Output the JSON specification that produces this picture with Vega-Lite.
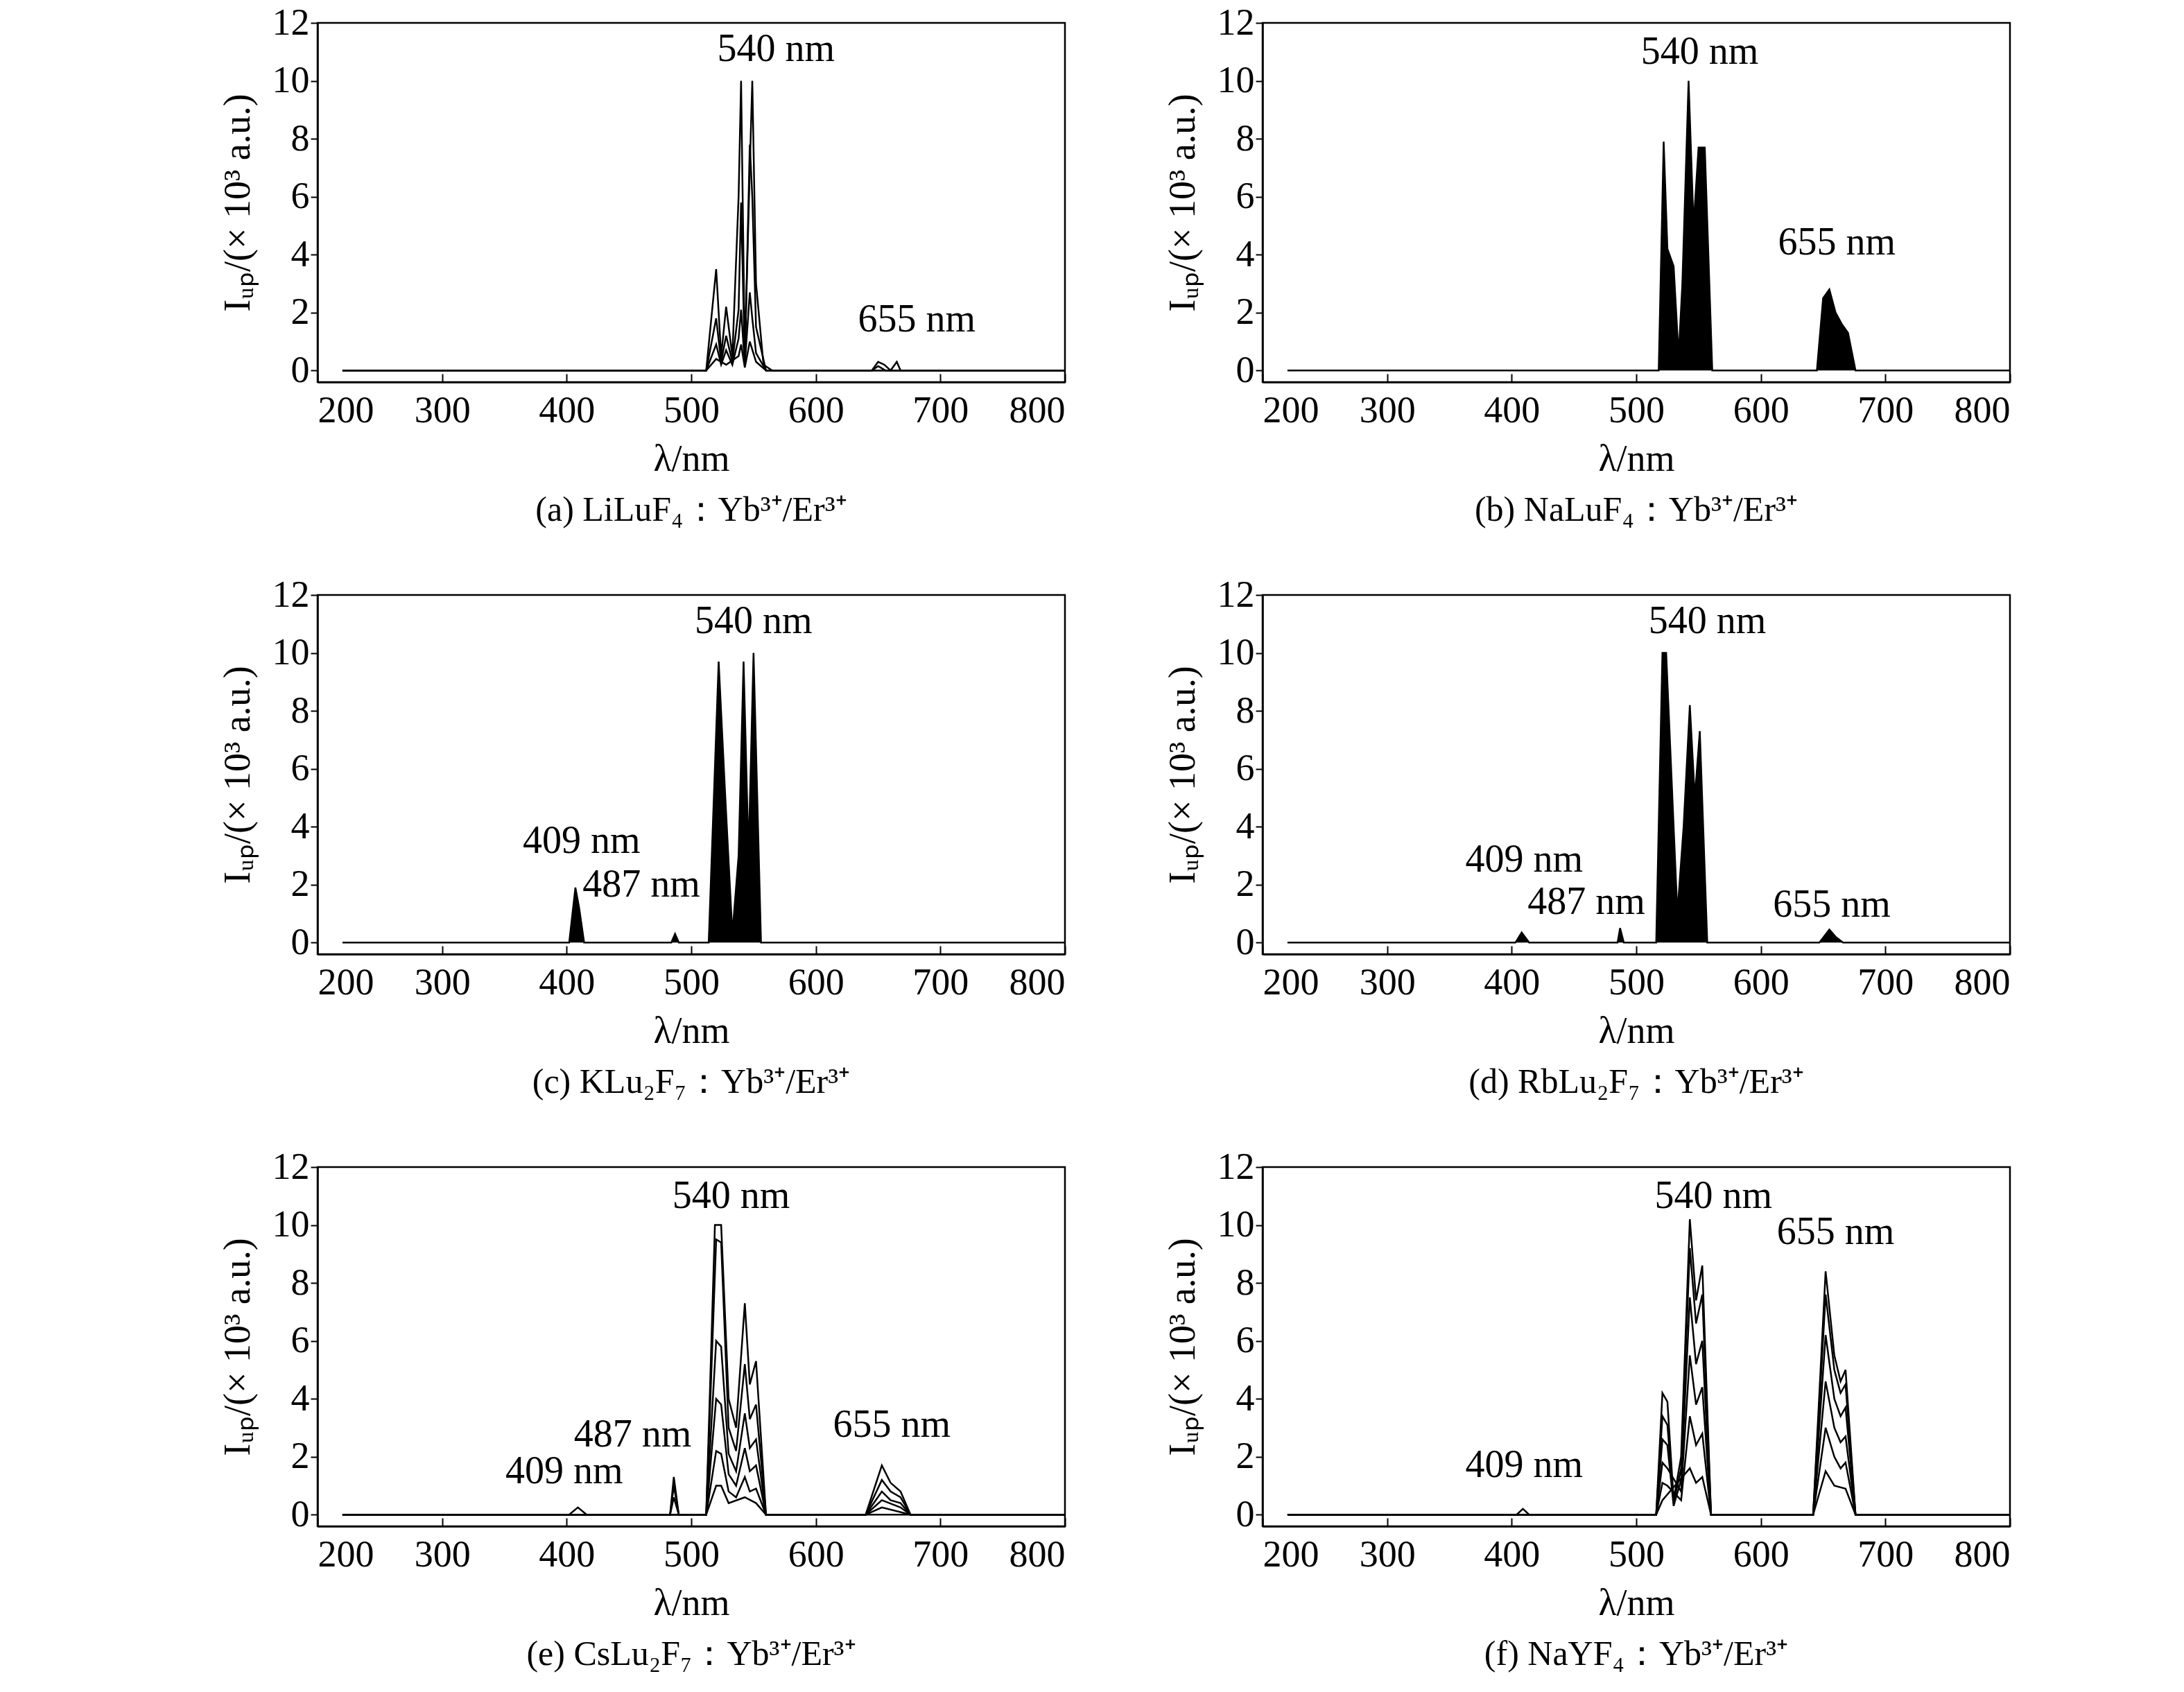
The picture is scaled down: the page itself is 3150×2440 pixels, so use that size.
{
  "$schema": "https://vega.github.io/schema/vega-lite/v6.json",
  "background": "white",
  "padding": {"left": 314, "top": 4, "right": 20, "bottom": 10},
  "data": {
    "values": [
      {"p":"a","s":1,"x":220,"y":0},{"p":"a","s":1,"x":512,"y":0},{"p":"a","s":1,"x":520,"y":3.5},{"p":"a","s":1,"x":524,"y":0.5},{"p":"a","s":1,"x":528,"y":2.2},{"p":"a","s":1,"x":533,"y":0.5},{"p":"a","s":1,"x":538,"y":6},{"p":"a","s":1,"x":540,"y":10},{"p":"a","s":1,"x":543,"y":0.5},{"p":"a","s":1,"x":547,"y":7},{"p":"a","s":1,"x":549,"y":10},{"p":"a","s":1,"x":552,"y":3},{"p":"a","s":1,"x":558,"y":0.2},{"p":"a","s":1,"x":565,"y":0},{"p":"a","s":1,"x":645,"y":0},{"p":"a","s":1,"x":650,"y":0.3},{"p":"a","s":1,"x":655,"y":0.2},{"p":"a","s":1,"x":660,"y":0},{"p":"a","s":1,"x":665,"y":0.3},{"p":"a","s":1,"x":668,"y":0},{"p":"a","s":1,"x":800,"y":0},
      {"p":"a","s":2,"x":220,"y":0},{"p":"a","s":2,"x":512,"y":0},{"p":"a","s":2,"x":520,"y":1.8},{"p":"a","s":2,"x":524,"y":0.3},{"p":"a","s":2,"x":528,"y":1.2},{"p":"a","s":2,"x":533,"y":0.3},{"p":"a","s":2,"x":538,"y":2.1},{"p":"a","s":2,"x":540,"y":5.8},{"p":"a","s":2,"x":543,"y":0.3},{"p":"a","s":2,"x":547,"y":7.8},{"p":"a","s":2,"x":549,"y":6},{"p":"a","s":2,"x":552,"y":1.5},{"p":"a","s":2,"x":560,"y":0},{"p":"a","s":2,"x":645,"y":0},{"p":"a","s":2,"x":650,"y":0.15},{"p":"a","s":2,"x":656,"y":0},{"p":"a","s":2,"x":800,"y":0},
      {"p":"a","s":3,"x":220,"y":0},{"p":"a","s":3,"x":512,"y":0},{"p":"a","s":3,"x":520,"y":0.9},{"p":"a","s":3,"x":524,"y":0.2},{"p":"a","s":3,"x":528,"y":0.7},{"p":"a","s":3,"x":533,"y":0.2},{"p":"a","s":3,"x":538,"y":1.1},{"p":"a","s":3,"x":540,"y":2.1},{"p":"a","s":3,"x":543,"y":0.2},{"p":"a","s":3,"x":547,"y":2.7},{"p":"a","s":3,"x":549,"y":1.8},{"p":"a","s":3,"x":552,"y":0.6},{"p":"a","s":3,"x":560,"y":0},{"p":"a","s":3,"x":800,"y":0},
      {"p":"a","s":4,"x":220,"y":0},{"p":"a","s":4,"x":512,"y":0},{"p":"a","s":4,"x":520,"y":0.4},{"p":"a","s":4,"x":528,"y":0.2},{"p":"a","s":4,"x":538,"y":0.5},{"p":"a","s":4,"x":540,"y":0.9},{"p":"a","s":4,"x":543,"y":0.1},{"p":"a","s":4,"x":547,"y":1.0},{"p":"a","s":4,"x":552,"y":0.3},{"p":"a","s":4,"x":560,"y":0},{"p":"a","s":4,"x":800,"y":0},

      {"p":"b","s":1,"x":220,"y":0},{"p":"b","s":1,"x":518,"y":0},{"p":"b","s":1,"x":522,"y":7.9},{"p":"b","s":1,"x":525,"y":4.2},{"p":"b","s":1,"x":530,"y":3.6},{"p":"b","s":1,"x":534,"y":0.5},{"p":"b","s":1,"x":537,"y":3},{"p":"b","s":1,"x":542,"y":10},{"p":"b","s":1,"x":546,"y":5},{"p":"b","s":1,"x":550,"y":7.7},{"p":"b","s":1,"x":555,"y":7.7},{"p":"b","s":1,"x":561,"y":0},{"p":"b","s":1,"x":645,"y":0},{"p":"b","s":1,"x":650,"y":2.5},{"p":"b","s":1,"x":655,"y":2.8},{"p":"b","s":1,"x":660,"y":2.0},{"p":"b","s":1,"x":665,"y":1.6},{"p":"b","s":1,"x":670,"y":1.3},{"p":"b","s":1,"x":676,"y":0},{"p":"b","s":1,"x":800,"y":0},

      {"p":"c","s":1,"x":220,"y":0},{"p":"c","s":1,"x":402,"y":0},{"p":"c","s":1,"x":407,"y":1.9},{"p":"c","s":1,"x":410,"y":1.2},{"p":"c","s":1,"x":414,"y":0},{"p":"c","s":1,"x":484,"y":0},{"p":"c","s":1,"x":487,"y":0.3},{"p":"c","s":1,"x":490,"y":0},{"p":"c","s":1,"x":514,"y":0},{"p":"c","s":1,"x":522,"y":9.7},{"p":"c","s":1,"x":527,"y":5.3},{"p":"c","s":1,"x":533,"y":0.3},{"p":"c","s":1,"x":538,"y":3},{"p":"c","s":1,"x":542,"y":9.7},{"p":"c","s":1,"x":546,"y":3},{"p":"c","s":1,"x":550,"y":10},{"p":"c","s":1,"x":556,"y":0},{"p":"c","s":1,"x":800,"y":0},

      {"p":"d","s":1,"x":220,"y":0},{"p":"d","s":1,"x":403,"y":0},{"p":"d","s":1,"x":408,"y":0.35},{"p":"d","s":1,"x":414,"y":0},{"p":"d","s":1,"x":485,"y":0},{"p":"d","s":1,"x":487,"y":0.5},{"p":"d","s":1,"x":490,"y":0},{"p":"d","s":1,"x":516,"y":0},{"p":"d","s":1,"x":521,"y":10},{"p":"d","s":1,"x":524,"y":10},{"p":"d","s":1,"x":527,"y":7},{"p":"d","s":1,"x":533,"y":1},{"p":"d","s":1,"x":538,"y":4},{"p":"d","s":1,"x":543,"y":8.2},{"p":"d","s":1,"x":547,"y":5},{"p":"d","s":1,"x":551,"y":7.3},{"p":"d","s":1,"x":557,"y":0},{"p":"d","s":1,"x":647,"y":0},{"p":"d","s":1,"x":655,"y":0.45},{"p":"d","s":1,"x":660,"y":0.2},{"p":"d","s":1,"x":666,"y":0},{"p":"d","s":1,"x":800,"y":0},

      {"p":"e","s":1,"x":220,"y":0},{"p":"e","s":1,"x":402,"y":0},{"p":"e","s":1,"x":409,"y":0.25},{"p":"e","s":1,"x":416,"y":0},{"p":"e","s":1,"x":483,"y":0},{"p":"e","s":1,"x":486,"y":1.3},{"p":"e","s":1,"x":490,"y":0},{"p":"e","s":1,"x":512,"y":0},{"p":"e","s":1,"x":519,"y":10},{"p":"e","s":1,"x":524,"y":10},{"p":"e","s":1,"x":530,"y":4},{"p":"e","s":1,"x":536,"y":3},{"p":"e","s":1,"x":543,"y":7.3},{"p":"e","s":1,"x":547,"y":4.5},{"p":"e","s":1,"x":552,"y":5.3},{"p":"e","s":1,"x":560,"y":0},{"p":"e","s":1,"x":640,"y":0},{"p":"e","s":1,"x":653,"y":1.7},{"p":"e","s":1,"x":660,"y":1.1},{"p":"e","s":1,"x":668,"y":0.8},{"p":"e","s":1,"x":676,"y":0},{"p":"e","s":1,"x":800,"y":0},
      {"p":"e","s":2,"x":220,"y":0},{"p":"e","s":2,"x":483,"y":0},{"p":"e","s":2,"x":486,"y":1.0},{"p":"e","s":2,"x":490,"y":0},{"p":"e","s":2,"x":512,"y":0},{"p":"e","s":2,"x":520,"y":9.5},{"p":"e","s":2,"x":524,"y":9.4},{"p":"e","s":2,"x":530,"y":3},{"p":"e","s":2,"x":536,"y":2.2},{"p":"e","s":2,"x":543,"y":5.2},{"p":"e","s":2,"x":547,"y":3.3},{"p":"e","s":2,"x":552,"y":3.8},{"p":"e","s":2,"x":560,"y":0},{"p":"e","s":2,"x":640,"y":0},{"p":"e","s":2,"x":653,"y":1.2},{"p":"e","s":2,"x":660,"y":0.8},{"p":"e","s":2,"x":668,"y":0.6},{"p":"e","s":2,"x":676,"y":0},{"p":"e","s":2,"x":800,"y":0},
      {"p":"e","s":3,"x":220,"y":0},{"p":"e","s":3,"x":483,"y":0},{"p":"e","s":3,"x":486,"y":0.6},{"p":"e","s":3,"x":490,"y":0},{"p":"e","s":3,"x":512,"y":0},{"p":"e","s":3,"x":520,"y":6},{"p":"e","s":3,"x":524,"y":5.8},{"p":"e","s":3,"x":530,"y":2.1},{"p":"e","s":3,"x":536,"y":1.5},{"p":"e","s":3,"x":543,"y":3.5},{"p":"e","s":3,"x":547,"y":2.3},{"p":"e","s":3,"x":552,"y":2.6},{"p":"e","s":3,"x":560,"y":0},{"p":"e","s":3,"x":640,"y":0},{"p":"e","s":3,"x":653,"y":0.8},{"p":"e","s":3,"x":660,"y":0.5},{"p":"e","s":3,"x":668,"y":0.4},{"p":"e","s":3,"x":676,"y":0},{"p":"e","s":3,"x":800,"y":0},
      {"p":"e","s":4,"x":220,"y":0},{"p":"e","s":4,"x":512,"y":0},{"p":"e","s":4,"x":520,"y":4},{"p":"e","s":4,"x":524,"y":3.8},{"p":"e","s":4,"x":530,"y":1.4},{"p":"e","s":4,"x":536,"y":1},{"p":"e","s":4,"x":543,"y":2.3},{"p":"e","s":4,"x":547,"y":1.5},{"p":"e","s":4,"x":552,"y":1.7},{"p":"e","s":4,"x":560,"y":0},{"p":"e","s":4,"x":640,"y":0},{"p":"e","s":4,"x":653,"y":0.5},{"p":"e","s":4,"x":668,"y":0.25},{"p":"e","s":4,"x":676,"y":0},{"p":"e","s":4,"x":800,"y":0},
      {"p":"e","s":5,"x":220,"y":0},{"p":"e","s":5,"x":512,"y":0},{"p":"e","s":5,"x":520,"y":2.2},{"p":"e","s":5,"x":524,"y":2.1},{"p":"e","s":5,"x":530,"y":0.8},{"p":"e","s":5,"x":536,"y":0.6},{"p":"e","s":5,"x":543,"y":1.3},{"p":"e","s":5,"x":547,"y":0.8},{"p":"e","s":5,"x":552,"y":0.9},{"p":"e","s":5,"x":560,"y":0},{"p":"e","s":5,"x":640,"y":0},{"p":"e","s":5,"x":653,"y":0.25},{"p":"e","s":5,"x":676,"y":0},{"p":"e","s":5,"x":800,"y":0},
      {"p":"e","s":6,"x":220,"y":0},{"p":"e","s":6,"x":512,"y":0},{"p":"e","s":6,"x":520,"y":1},{"p":"e","s":6,"x":524,"y":1},{"p":"e","s":6,"x":530,"y":0.4},{"p":"e","s":6,"x":543,"y":0.6},{"p":"e","s":6,"x":552,"y":0.4},{"p":"e","s":6,"x":560,"y":0},{"p":"e","s":6,"x":800,"y":0},

      {"p":"f","s":1,"x":220,"y":0},{"p":"f","s":1,"x":404,"y":0},{"p":"f","s":1,"x":409,"y":0.2},{"p":"f","s":1,"x":414,"y":0},{"p":"f","s":1,"x":516,"y":0},{"p":"f","s":1,"x":521,"y":4.2},{"p":"f","s":1,"x":525,"y":3.9},{"p":"f","s":1,"x":530,"y":0.5},{"p":"f","s":1,"x":536,"y":2},{"p":"f","s":1,"x":543,"y":10.2},{"p":"f","s":1,"x":548,"y":7.4},{"p":"f","s":1,"x":553,"y":8.6},{"p":"f","s":1,"x":560,"y":0},{"p":"f","s":1,"x":642,"y":0},{"p":"f","s":1,"x":652,"y":8.4},{"p":"f","s":1,"x":659,"y":5.5},{"p":"f","s":1,"x":664,"y":4.6},{"p":"f","s":1,"x":668,"y":5},{"p":"f","s":1,"x":676,"y":0},{"p":"f","s":1,"x":800,"y":0},
      {"p":"f","s":2,"x":220,"y":0},{"p":"f","s":2,"x":516,"y":0},{"p":"f","s":2,"x":521,"y":3.4},{"p":"f","s":2,"x":525,"y":3.1},{"p":"f","s":2,"x":530,"y":0.4},{"p":"f","s":2,"x":536,"y":1.6},{"p":"f","s":2,"x":543,"y":9.2},{"p":"f","s":2,"x":548,"y":6.6},{"p":"f","s":2,"x":553,"y":7.6},{"p":"f","s":2,"x":560,"y":0},{"p":"f","s":2,"x":642,"y":0},{"p":"f","s":2,"x":652,"y":7.6},{"p":"f","s":2,"x":659,"y":5},{"p":"f","s":2,"x":664,"y":4.2},{"p":"f","s":2,"x":668,"y":4.5},{"p":"f","s":2,"x":676,"y":0},{"p":"f","s":2,"x":800,"y":0},
      {"p":"f","s":3,"x":220,"y":0},{"p":"f","s":3,"x":516,"y":0},{"p":"f","s":3,"x":521,"y":2.6},{"p":"f","s":3,"x":525,"y":2.4},{"p":"f","s":3,"x":530,"y":0.3},{"p":"f","s":3,"x":536,"y":1.2},{"p":"f","s":3,"x":543,"y":7.5},{"p":"f","s":3,"x":548,"y":5.2},{"p":"f","s":3,"x":553,"y":6},{"p":"f","s":3,"x":560,"y":0},{"p":"f","s":3,"x":642,"y":0},{"p":"f","s":3,"x":652,"y":6.2},{"p":"f","s":3,"x":659,"y":4},{"p":"f","s":3,"x":664,"y":3.4},{"p":"f","s":3,"x":668,"y":3.7},{"p":"f","s":3,"x":676,"y":0},{"p":"f","s":3,"x":800,"y":0},
      {"p":"f","s":4,"x":220,"y":0},{"p":"f","s":4,"x":516,"y":0},{"p":"f","s":4,"x":521,"y":1.8},{"p":"f","s":4,"x":525,"y":1.6},{"p":"f","s":4,"x":536,"y":0.8},{"p":"f","s":4,"x":543,"y":5.5},{"p":"f","s":4,"x":548,"y":3.8},{"p":"f","s":4,"x":553,"y":4.4},{"p":"f","s":4,"x":560,"y":0},{"p":"f","s":4,"x":642,"y":0},{"p":"f","s":4,"x":652,"y":4.6},{"p":"f","s":4,"x":659,"y":3},{"p":"f","s":4,"x":664,"y":2.5},{"p":"f","s":4,"x":668,"y":2.7},{"p":"f","s":4,"x":676,"y":0},{"p":"f","s":4,"x":800,"y":0},
      {"p":"f","s":5,"x":220,"y":0},{"p":"f","s":5,"x":516,"y":0},{"p":"f","s":5,"x":521,"y":1.1},{"p":"f","s":5,"x":525,"y":1},{"p":"f","s":5,"x":536,"y":0.5},{"p":"f","s":5,"x":543,"y":3.4},{"p":"f","s":5,"x":548,"y":2.4},{"p":"f","s":5,"x":553,"y":2.8},{"p":"f","s":5,"x":560,"y":0},{"p":"f","s":5,"x":642,"y":0},{"p":"f","s":5,"x":652,"y":3},{"p":"f","s":5,"x":659,"y":2},{"p":"f","s":5,"x":664,"y":1.6},{"p":"f","s":5,"x":668,"y":1.8},{"p":"f","s":5,"x":676,"y":0},{"p":"f","s":5,"x":800,"y":0},
      {"p":"f","s":6,"x":220,"y":0},{"p":"f","s":6,"x":516,"y":0},{"p":"f","s":6,"x":521,"y":0.5},{"p":"f","s":6,"x":543,"y":1.6},{"p":"f","s":6,"x":548,"y":1.1},{"p":"f","s":6,"x":553,"y":1.3},{"p":"f","s":6,"x":560,"y":0},{"p":"f","s":6,"x":642,"y":0},{"p":"f","s":6,"x":652,"y":1.5},{"p":"f","s":6,"x":659,"y":1},{"p":"f","s":6,"x":668,"y":0.9},{"p":"f","s":6,"x":676,"y":0},{"p":"f","s":6,"x":800,"y":0},

      {"p":"a","t":"540 nm","x":568,"y":11.1},{"p":"a","t":"655 nm","x":681,"y":1.75},
      {"p":"b","t":"540 nm","x":551,"y":11.0},{"p":"b","t":"655 nm","x":661,"y":4.4},
      {"p":"c","t":"540 nm","x":550,"y":11.1},{"p":"c","t":"409 nm","x":412,"y":3.5},{"p":"c","t":"487 nm","x":460,"y":2.0},
      {"p":"d","t":"540 nm","x":557,"y":11.1},{"p":"d","t":"409 nm","x":410,"y":2.85},{"p":"d","t":"487 nm","x":460,"y":1.4},{"p":"d","t":"655 nm","x":657,"y":1.3},
      {"p":"e","t":"540 nm","x":532,"y":11.0},{"p":"e","t":"487 nm","x":453,"y":2.75},{"p":"e","t":"409 nm","x":398,"y":1.5},{"p":"e","t":"655 nm","x":661,"y":3.1},
      {"p":"f","t":"540 nm","x":562,"y":11.0},{"p":"f","t":"655 nm","x":660,"y":9.75},{"p":"f","t":"409 nm","x":410,"y":1.7}
    ]
  },
  "facet": {
    "field": "p",
    "type": "nominal",
    "header": {
      "title": null,
      "labelOrient": "bottom",
      "labelFont": "Liberation Serif",
      "labelFontSize": 50,
      "labelColor": "black",
      "labelPadding": 22,
      "labelExpr": "{'a':'(a) LiLuF₄：Yb³⁺/Er³⁺','b':'(b) NaLuF₄：Yb³⁺/Er³⁺','c':'(c) KLu₂F₇：Yb³⁺/Er³⁺','d':'(d) RbLu₂F₇：Yb³⁺/Er³⁺','e':'(e) CsLu₂F₇：Yb³⁺/Er³⁺','f':'(f) NaYF₄：Yb³⁺/Er³⁺'}[datum.value]"
    }
  },
  "columns": 2,
  "spacing": {"column": 134, "row": 66},
  "resolve": {"axis": {"x": "independent", "y": "independent"}},
  "spec": {
    "width": 1078,
    "height": 518,
    "encoding": {
      "x": {
        "field": "x", "type": "quantitative",
        "scale": {"domain": [200, 800], "nice": false},
        "axis": {"title": "λ/nm", "values": [200, 300, 400, 500, 600, 700, 800], "grid": false, "tickSize": -12, "labelPadding": 26, "titlePadding": 16}
      },
      "y": {
        "field": "y", "type": "quantitative",
        "scale": {"domain": [-0.4, 12], "nice": false, "zero": false},
        "axis": {"title": "Iᵤₚ/(× 10³ a.u.)", "values": [0, 2, 4, 6, 8, 10, 12], "grid": false, "tickSize": 10, "titlePadding": 22}
      }
    },
    "layer": [
      {
        "transform": [{"filter": "datum.t == null && datum.s == 1 && (datum.p == 'b' || datum.p == 'c' || datum.p == 'd')"}],
        "mark": {"type": "area", "color": "black", "opacity": 1},
        "encoding": {"y2": {"datum": 0}}
      },
      {
        "transform": [{"filter": "datum.t == null"}],
        "mark": {"type": "line", "color": "black", "strokeWidth": 2.5},
        "encoding": {"detail": {"field": "s"}, "order": {"field": "x"}}
      },
      {
        "transform": [{"filter": "datum.t != null"}],
        "mark": {"type": "text", "font": "Liberation Serif", "fontSize": 56, "color": "black"},
        "encoding": {"text": {"field": "t"}}
      }
    ]
  },
  "config": {
    "view": {"stroke": "black", "strokeWidth": 2.5},
    "axis": {
      "labelFont": "Liberation Serif", "labelFontSize": 54, "labelColor": "black",
      "titleFont": "Liberation Serif", "titleFontSize": 54, "titleFontWeight": "normal", "titleColor": "black",
      "domainColor": "black", "domainWidth": 2.5, "tickColor": "black", "tickWidth": 2
    }
  }
}
